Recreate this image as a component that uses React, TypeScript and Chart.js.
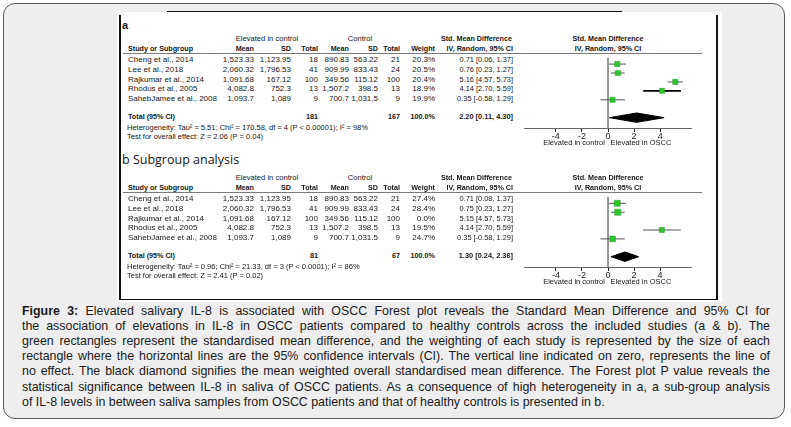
import React, { useEffect, useRef } from 'react';
import { Chart, registerables } from 'chart.js';
Chart.register(...registerables);

// ---------- data ----------
const studies = ['Cheng et al., 2014', 'Lee et al., 2018', 'Rajkumar et al., 2014', 'Rhodus et al., 2005', 'SahebJamee et al., 2008'];
const expMean = ['1,523.33', '2,060.32', '1,091.68', '4,082.8', '1,093.7'];
const expSD = ['1,123.95', '1,796.53', '167.12', '752.3', '1,089'];
const expTotal = [18, 41, 100, 13, 9];
const ctrlMean = ['890.83', '909.99', '349.56', '1,507.2', '700.7'];
const ctrlSD = ['563.22', '833.43', '115.12', '398.5', '1,031.5'];
const ctrlTotal = [21, 24, 100, 13, 9];

const smdA = [0.71, 0.76, 5.16, 4.14, 0.35];
const lowA = [0.06, 0.23, 4.57, 2.70, -0.58];
const highA = [1.37, 1.27, 5.73, 5.59, 1.29];
const weightA = [20.3, 20.5, 20.4, 18.9, 19.9];
const pooledA = [2.20, 0.11, 4.30];
const totalsA = [181, 167];
const hetA = 'Heterogeneity: Tau\u00b2 = 5.51; Chi\u00b2 = 170.58, df = 4 (P < 0.00001); I\u00b2 = 98%';
const testA = 'Test for overall effect: Z = 2.06 (P = 0.04)';

const smdB = [0.71, 0.75, 5.15, 4.14, 0.35];
const lowB = [0.08, 0.23, 4.57, 2.70, -0.58];
const highB = [1.37, 1.27, 5.73, 5.59, 1.29];
const weightB = [27.4, 28.4, 0.0, 19.5, 24.7];
const pooledB = [1.30, 0.24, 2.36];
const totalsB = [81, 67];
const hetB = 'Heterogeneity: Tau\u00b2 = 0.96; Chi\u00b2 = 21.33, df = 3 (P < 0.0001); I\u00b2 = 86%';
const testB = 'Test for overall effect: Z = 2.41 (P = 0.02)';

const xTicks = [-4, -2, 0, 2, 4];
const xRange = [-6.4, 6.4];

const captionLines = [
  'Elevated salivary IL-8 is associated with OSCC Forest plot reveals the Standard Mean Difference and 95% CI for',
  'the association of elevations in IL-8 in OSCC patients compared to healthy controls across the included studies (a & b). The',
  'green rectangles represent the standardised mean difference, and the weighting of each study is represented by the size of each',
  'rectangle where the horizontal lines are the 95% confidence intervals (CI). The vertical line indicated on zero, represents the line of',
  'no effect. The black diamond signifies the mean weighted overall standardised mean difference. The Forest plot P value reveals the',
  'statistical significance between IL-8 in saliva of OSCC patients. As a consequence of high heterogeneity in a, a sub-group analysis',
  'of IL-8 levels in between saliva samples from OSCC patients and that of healthy controls is presented in b.',
];

// ---------- layout / style ----------
const FONT = '"Liberation Sans", Arial, sans-serif';
const HS = 7.2;   // bold header font size
const GS = 7.6;   // group header size
const NS = 8.0;   // study name size
const RS = 8.0;   // numeric row size
const CS = 7.4;   // CI text size
const FS = 7.5;   // footer font size
const ROW0 = 60;
const ROWH = 9.75;
const CHART_LEFT = 520;
const CHART_W = 176;
const AREA_H = 75;
const AXIS_H = 22;
const PX_PER_ROW = 9.5;
const FIRST_ROW_OFF = 7;
const GREEN = '#2fc42f';
const TXT = '#161616';

function Txt(props: any) {
  const { x, y, a = 'l', b = false, s = RS, f = FONT, c = TXT, children } = props;
  const tx = a === 'r' ? 'translate(-100%,-50%)' : a === 'c' ? 'translate(-50%,-50%)' : 'translate(0,-50%)';
  return (
    <div style={{ position: 'absolute', left: x, top: y, transform: tx, whiteSpace: 'nowrap', fontSize: s, fontWeight: b ? 700 : 400, fontFamily: f, color: c, lineHeight: 1 }}>
      {children}
    </div>
  );
}

function ForestChart(props: any) {
  const { smd, low, high, weight, pooled, emph, top } = props;
  const ref = useRef<HTMLCanvasElement>(null);
  useEffect(() => {
    const yMin = -FIRST_ROW_OFF / PX_PER_ROW;
    const yMax = yMin + AREA_H / PX_PER_ROW;
    const totalRow = smd.length + 1;
    const h = 5 / PX_PER_ROW;
    const shown = smd.map((_: number, i: number) => i).filter((i: number) => weight[i] > 0);
    const datasets: any[] = [];
    datasets.push({
      type: 'line', order: 0, showLine: false,
      data: shown.map((i: number) => ({ x: smd[i], y: i })),
      pointStyle: 'rect',
      pointRadius: shown.map((i: number) => (1.15 * Math.sqrt(weight[i])) / Math.SQRT2),
      backgroundColor: GREEN, borderColor: '#1f9a1f', borderWidth: 0.5,
    });
    datasets.push({
      type: 'line', order: 1,
      data: [
        { x: pooled[1], y: totalRow },
        { x: pooled[0], y: totalRow - h },
        { x: pooled[2], y: totalRow },
        { x: pooled[0], y: totalRow + h },
        { x: pooled[1], y: totalRow },
      ],
      fill: 'shape', backgroundColor: '#000', borderColor: '#000', borderWidth: 1, pointRadius: 0, tension: 0,
    });
    shown.forEach((i: number) => {
      datasets.push({
        type: 'line', order: 2,
        data: [{ x: low[i], y: i }, { x: high[i], y: i }],
        borderColor: i === emph ? '#000' : '#555', borderWidth: i === emph ? 1.6 : 1, pointRadius: 0,
      });
    });
    datasets.push({
      type: 'line', order: 3,
      data: [{ x: 0, y: yMin }, { x: 0, y: yMax }],
      borderColor: '#8a8a8a', borderWidth: 1, pointRadius: 0,
    });
    const chart = new Chart(ref.current!, {
      type: 'line',
      data: { datasets },
      options: {
        animation: false, responsive: false, events: [],
        layout: { padding: 0 },
        plugins: { legend: { display: false }, tooltip: { enabled: false } },
        scales: {
          x: {
            type: 'linear', min: xRange[0], max: xRange[1],
            afterBuildTicks: (s: any) => { s.ticks = xTicks.map((v) => ({ value: v })); },
            afterFit: (s: any) => { s.height = AXIS_H; },
            grid: { drawOnChartArea: false, drawTicks: true, tickLength: 4, tickColor: '#222', tickWidth: 1 },
            border: { display: true, color: '#666', width: 1 },
            ticks: { font: { family: FONT, size: 9 }, color: '#222', padding: -1, maxRotation: 0, autoSkip: false },
          },
          y: { type: 'linear', reverse: true, min: yMin, max: yMax, display: false },
        },
      } as any,
    });
    return () => chart.destroy();
  }, []);
  return (
    <canvas ref={ref} width={CHART_W} height={AREA_H + AXIS_H}
      style={{ position: 'absolute', left: CHART_LEFT, top, width: CHART_W, height: AREA_H + AXIS_H }} />
  );
}

function Panel(props: any) {
  const { dy, smd, low, high, weight, pooled, totals, het, test, emph } = props;
  const cols = [254, 291, 318, 349, 378, 400, 435];
  const rowY = (i: number) => ROW0 + dy + i * ROWH;
  return (
    <>
      <Txt x={267} y={39 + dy} a="c" s={GS}>Elevated in control</Txt>
      <Txt x={360} y={39 + dy} a="c" s={GS}>Control</Txt>
      <Txt x={512} y={38.5 + dy} a="r" b s={HS}>Std. Mean Difference</Txt>
      <Txt x={608} y={38.5 + dy} a="c" b s={HS}>Std. Mean Difference</Txt>
      <Txt x={128} y={48.5 + dy} b s={HS}>Study or Subgroup</Txt>
      {['Mean', 'SD', 'Total', 'Mean', 'SD', 'Total', 'Weight'].map((t, k) => (
        <Txt key={k} x={cols[k]} y={48.5 + dy} a="r" b s={HS}>{t}</Txt>
      ))}
      <Txt x={513} y={48.5 + dy} a="r" b s={HS}>IV, Random, 95% CI</Txt>
      <Txt x={608} y={48.5 + dy} a="c" b s={HS}>IV, Random, 95% CI</Txt>
      <div style={{ position: 'absolute', left: 123, top: 53 + dy, width: 579, height: 1, background: '#7a7a7a' }} />
      {studies.map((s, i) => (
        <React.Fragment key={i}>
          <Txt x={128} y={rowY(i)} s={NS}>{s}</Txt>
          <Txt x={cols[0]} y={rowY(i)} a="r">{expMean[i]}</Txt>
          <Txt x={cols[1]} y={rowY(i)} a="r">{expSD[i]}</Txt>
          <Txt x={cols[2]} y={rowY(i)} a="r">{expTotal[i]}</Txt>
          <Txt x={cols[3]} y={rowY(i)} a="r">{ctrlMean[i]}</Txt>
          <Txt x={cols[4]} y={rowY(i)} a="r">{ctrlSD[i]}</Txt>
          <Txt x={cols[5]} y={rowY(i)} a="r">{ctrlTotal[i]}</Txt>
          <Txt x={cols[6]} y={rowY(i)} a="r">{weight[i].toFixed(1)}%</Txt>
          <Txt x={513} y={rowY(i)} a="r" s={CS}>{`${smd[i].toFixed(2)} [${low[i].toFixed(2)}, ${high[i].toFixed(2)}]`}</Txt>
        </React.Fragment>
      ))}
      <Txt x={128} y={117 + dy} b s={HS}>Total (95% CI)</Txt>
      <Txt x={cols[2]} y={117 + dy} a="r" b s={HS}>{totals[0]}</Txt>
      <Txt x={cols[5]} y={117 + dy} a="r" b s={HS}>{totals[1]}</Txt>
      <Txt x={cols[6]} y={117 + dy} a="r" b s={HS}>100.0%</Txt>
      <Txt x={513} y={117 + dy} a="r" b s={CS}>{`${pooled[0].toFixed(2)} [${pooled[1].toFixed(2)}, ${pooled[2].toFixed(2)}]`}</Txt>
      <Txt x={127} y={127.5 + dy} s={FS}>{het}</Txt>
      <Txt x={127} y={137 + dy} s={FS}>{test}</Txt>
      <ForestChart smd={smd} low={low} high={high} weight={weight} pooled={pooled} emph={emph} top={53 + dy} />
      <Txt x={574} y={143 + dy} a="c" s={FS}>Elevated in control</Txt>
      <Txt x={641} y={143 + dy} a="c" s={FS}>Elevated in OSCC</Txt>
    </>
  );
}

export default function App() {
  return (
    <div style={{ position: 'absolute', left: 0, top: 0, width: 791, height: 427, background: '#fff', overflow: 'hidden' }}>
      <div style={{ position: 'absolute', left: 3, top: 3, width: 780, height: 414, border: '1.5px solid #5a5a5a', borderRadius: 12, background: '#eeeeee' }} />
      <div style={{ position: 'absolute', left: 117, top: 12, width: 605, height: 290, background: '#fff' }} />
      <div style={{ position: 'absolute', left: 167, top: 10.5, width: 455, height: 1.5, background: '#111' }} />
      <div style={{ position: 'absolute', left: 119, top: 15, width: 2, height: 285, background: '#111' }} />
      <div style={{ position: 'absolute', left: 716, top: 15, width: 1.5, height: 285, background: '#111' }} />
      <div style={{ position: 'absolute', left: 119, top: 298.5, width: 598.5, height: 1.5, background: '#111' }} />
      <Txt x={122} y={25} b s={11}>a</Txt>
      <Panel dy={0} smd={smdA} low={lowA} high={highA} weight={weightA} pooled={pooledA} totals={totalsA} het={hetA} test={testA} emph={3} />
      <Txt x={122} y={160} s={12.5} f='"Open Sans", sans-serif'>b Subgroup analysis</Txt>
      <Panel dy={139} smd={smdB} low={lowB} high={highB} weight={weightB} pooled={pooledB} totals={totalsB} het={hetB} test={testB} emph={-1} />
      <div style={{ position: 'absolute', left: 22, top: 303.5, width: 748, fontFamily: FONT, fontSize: 12.4, lineHeight: '15.2px', color: '#1a1a1a' }}>
        {captionLines.map((l, i) => (
          <div key={i} style={{ whiteSpace: 'nowrap', textAlign: 'justify', textAlignLast: i < captionLines.length - 1 ? 'justify' : 'left' } as any}>
            {i === 0 ? <><b>Figure 3:</b> {l}</> : l}
          </div>
        ))}
      </div>
    </div>
  );
}
